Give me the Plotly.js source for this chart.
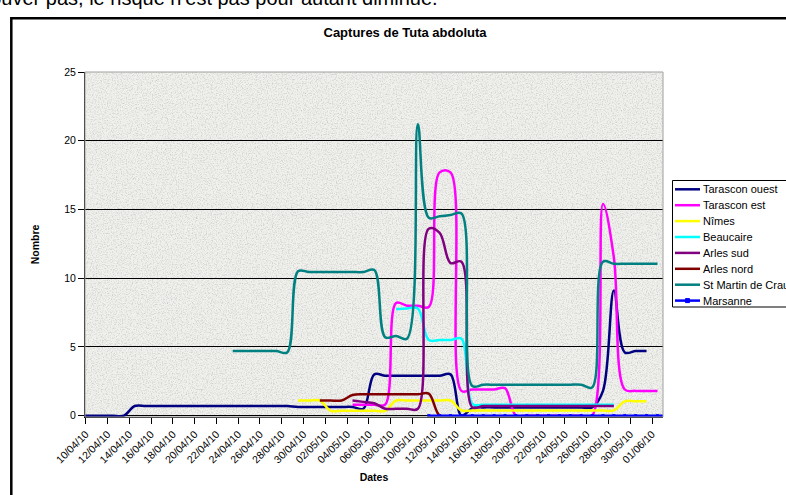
<!DOCTYPE html>
<html>
<head>
<meta charset="utf-8">
<script src="https://cdn.plot.ly/plotly-3.0.1.min.js"></script>
<style>
html,body{margin:0;padding:0;background:#fff;overflow:hidden;width:786px;height:495px;}
#chart{position:absolute;left:0;top:0;width:786px;height:495px;}
#toptext{position:absolute;left:-22px;top:-12px;font:20px/20px "Liberation Sans",Arial,sans-serif;color:#000;white-space:nowrap;z-index:5;}
</style>
</head>
<body>
<div id="chart"></div>
<div id="toptext">trouver pas, le risque n'est pas pour autant diminué.</div>
<script>
// ---------- DATA ----------
const days = [
  "2010-04-09","2010-04-10","2010-04-11","2010-04-12","2010-04-13","2010-04-14","2010-04-15","2010-04-16",
  "2010-04-17","2010-04-18","2010-04-19","2010-04-20","2010-04-21","2010-04-22","2010-04-23","2010-04-24",
  "2010-04-25","2010-04-26","2010-04-27","2010-04-28","2010-04-29","2010-04-30",
  "2010-05-01","2010-05-02","2010-05-03","2010-05-04","2010-05-05","2010-05-06","2010-05-07","2010-05-08",
  "2010-05-09","2010-05-10","2010-05-11","2010-05-12","2010-05-13","2010-05-14","2010-05-15","2010-05-16",
  "2010-05-17","2010-05-18","2010-05-19","2010-05-20","2010-05-21","2010-05-22","2010-05-23","2010-05-24",
  "2010-05-25","2010-05-26","2010-05-27","2010-05-28","2010-05-29","2010-05-30","2010-05-31",
  "2010-06-01","2010-06-02"
];

const seriesNames = ["Tarascon ouest","Tarascon est","Nîmes","Beaucaire","Arles sud","Arles nord","St Martin de Crau","Marsanne"];

const tarasconOuest = [0,0,0,0,0,
  0.7,0.7,0.7,0.7,0.7,0.7,0.7,0.7,0.7,0.7,0.7,0.7,0.7,0.7,0.7,
  0.63,0.63,0.63,0.63,0.63,0.63,
  0.5,3.0,2.9,2.9,2.9,2.9,2.9,2.9,3.0,0,0.55,
  0.6,0.6,0.6,0.6,0.6,0.6,0.6,0.6,0.6,0.6,0.6,
  1.8,9.1,4.6,4.7,4.7,null,null];

const tarasconEst = [null,null,null,null,null,null,null,null,null,null,null,null,null,null,null,null,null,null,null,null,null,null,null,null,null,
  0.8,0.8,0.8,0.8,8.2,8.0,8.0,7.9,17.7,17.7,1.8,1.9,1.9,1.9,2.0,
  0,0,0,0,0,0,0,0,15.4,11.5,1.9,1.8,1.8,1.8,null];

const nimes = [null,null,null,null,null,null,null,null,null,null,null,null,null,null,null,null,null,null,null,null,
  1.1,1.1,1.1,0.35,0.35,0.35,0.35,0.35,0.35,
  1.1,1.1,1.1,1.1,1.1,1.1,
  0.38,0.38,0.38,0.38,0.38,0.38,0.38,0.38,0.38,0.38,0.38,0.38,0.38,0.38,0.38,
  1.04,1.04,1.04,null,null];

const beaucaire = [null,null,null,null,null,null,null,null,null,null,null,null,null,null,null,null,null,null,null,null,null,null,null,null,null,null,null,null,null,
  7.75,7.8,7.8,5.5,5.5,5.5,5.6,0.85,
  0.8,0.8,0.8,0.8,0.8,0.8,0.8,0.8,0.8,0.8,0.8,0.8,0.8,
  null,null,null,null,null];

const arlesSud = [null,null,null,null,null,null,null,null,null,null,null,null,null,null,null,null,null,null,null,null,null,null,null,null,null,
  1.1,1.0,0.9,0.5,0.5,0.5,0.5,13.6,13.3,11.1,11.2,0.6,
  0.7,0.7,0.7,0.7,0.7,0.7,0.7,0.7,0.7,0.7,0.7,0.7,0.7,
  null,null,null,null,null];

const arlesNord = [null,null,null,null,null,null,null,null,null,null,null,null,null,null,null,null,null,null,null,null,null,null,
  1.1,1.1,1.1,1.5,1.55,1.55,1.55,1.55,1.55,1.55,1.6,0,0,
  null,null,null,null,null,null,null,null,null,null,null,null,null,null,null,null,null,null,null,null];

const stMartinDeCrau = [null,null,null,null,null,null,null,null,null,null,null,null,null,null,
  4.7,4.7,4.7,4.7,4.7,4.6,10.5,10.45,10.45,10.45,10.45,10.45,10.45,10.6,
  5.7,5.8,5.6,21.2,14.4,14.5,14.6,14.7,2.15,
  2.25,2.25,2.25,2.25,2.25,2.25,2.25,2.25,2.25,2.25,2.05,
  11.2,11.05,11.05,11.05,11.05,11.05,null];

const marsanne = [null,null,null,null,null,null,null,null,null,null,null,null,null,null,null,null,
  null,null,null,null,null,null,null,null,null,null,null,null,null,null,null,null,
  0,0,0,0,0,0,0,0,0,0,0,0,0,0,0,0,0,0,0,0,0,0,0];

const yTickValues = [0,5,10,15,20,25];

// ---------- STYLE ----------
const seriesValues = [tarasconOuest,tarasconEst,nimes,beaucaire,arlesSud,arlesNord,stMartinDeCrau,marsanne];
const seriesColors = ["#000080","#ff00ff","#ffff00","#00ffff","#800080","#800000","#008080","#0000ff"];
const FONT = "Liberation Sans, Arial, sans-serif";

// readings are taken at mid-day
const xDates = days.map(d => d + " 12:00");

const traces = seriesValues.map((vals, k) => ({
  type: "scatter",
  mode: k === 7 ? "lines+markers" : "lines",
  name: seriesNames[k],
  x: xDates,
  y: vals,
  line: {color: seriesColors[k], width: 2.5, shape: "spline", smoothing: 1},
  marker: {color: seriesColors[k], size: 3, symbol: "square"},
  connectgaps: false,
  hoverinfo: "x+y+name"
}));

// pixel geometry of the plot area
const L = 85, R = 663, T = 72, B = 417;
const px = x => (x - L) / (R - L);
const py = y => (B - y) / (B - T);

const shapes = [];
const annotations = [];

// outer chart frame
shapes.push({type:"rect", xref:"paper", yref:"paper", x0:px(11.3), x1:px(1100), y0:py(900), y1:py(18.3),
  line:{color:"#000", width:2.5}, fillcolor:"rgba(0,0,0,0)", layer:"below"});
// plot area border (grey)
shapes.push({type:"rect", xref:"paper", yref:"paper", x0:0, x1:1, y0:0, y1:1,
  line:{color:"#a0a0a0", width:1}, fillcolor:"rgba(0,0,0,0)", layer:"above"});

// legend (drawn manually for Excel-like spacing)
shapes.push({type:"rect", xref:"paper", yref:"paper", x0:px(672.5), x1:px(900), y0:py(307), y1:py(180.5),
  line:{color:"#000", width:1}, fillcolor:"#fff", layer:"above"});
seriesNames.forEach((nm, k) => {
  const ly = 189.3 + 15.9 * k;
  shapes.push({type:"line", xref:"paper", yref:"paper", x0:px(675), x1:px(700), y0:py(ly), y1:py(ly),
    line:{color:seriesColors[k], width:2.5}, layer:"above"});
  if (k === 7) {
    shapes.push({type:"rect", xref:"paper", yref:"paper", x0:px(685.5), x1:px(689.5), y0:py(ly+2), y1:py(ly-2),
      line:{color:seriesColors[k], width:1}, fillcolor:seriesColors[k], layer:"above"});
  }
  annotations.push({xref:"paper", yref:"paper", x:px(701), y:py(ly), xanchor:"left", yanchor:"middle",
    text:nm, showarrow:false, font:{family:FONT, size:11, color:"#000"}});
});

// granite-like texture for the plot area
const texSvg = "<svg xmlns='http://www.w3.org/2000/svg' width='578' height='345' viewBox='0 0 578 345'>" +
  "<filter id='f' x='0' y='0' width='1' height='1'>" +
  "<feTurbulence type='fractalNoise' baseFrequency='0.8' numOctaves='3' seed='5'/>" +
  "<feColorMatrix type='matrix' values='0 0 0 0 0.55  0 0 0 0 0.55  0 0 0 0 0.54  -1.9 0 0 0 1.05'/>" +
  "</filter>" +
  "<rect width='578' height='345' fill='#f0f0ed'/>" +
  "<rect width='578' height='345' filter='url(#f)'/></svg>";
const texture = "data:image/svg+xml;charset=utf-8," + encodeURIComponent(texSvg);

const layout = {
  width: 786, height: 495,
  margin: {l: L, r: 786 - R, t: T, b: 495 - B, autoexpand: false},
  paper_bgcolor: "rgba(0,0,0,0)",
  plot_bgcolor: "rgba(0,0,0,0)",
  showlegend: false,
  font: {family: FONT, color: "#000"},
  title: {text: "Captures de Tuta abdoluta", font: {family: FONT, size: 13, weight: "bold", color: "#000"},
    xref: "container", x: 405 / 786, xanchor: "center", yref: "container", y: 1 - 32.5 / 495, yanchor: "middle"},
  xaxis: {
    type: "date",
    range: ["2010-04-09 22:27", "2010-06-02 00:15"],
    tick0: "2010-04-10", dtick: 172800000,
    tickformat: "%d/%m/%y", tickangle: -45,
    tickfont: {family: FONT, size: 10.5, color: "#000"},
    ticks: "outside", ticklen: 6, tickcolor: "#000", tickwidth: 1,
    showline: true, linecolor: "#000", linewidth: 1,
    showgrid: false, zeroline: false,
    title: {text: "Dates", font: {family: FONT, size: 10.5, weight: "bold", color: "#000"}, standoff: 9}
  },
  yaxis: {
    range: [-0.1, 25],
    tickvals: yTickValues,
    tickfont: {family: FONT, size: 10.5, color: "#000"},
    ticks: "outside", ticklen: 6, tickcolor: "#000", tickwidth: 1,
    showline: true, linecolor: "#000", linewidth: 1,
    showgrid: true, gridcolor: "#000", gridwidth: 1, zeroline: false,
    title: {text: "Nombre", font: {family: FONT, size: 10.5, weight: "bold", color: "#000"}, standoff: 22}
  },
  images: [{source: texture, xref: "paper", yref: "paper", x: 0, y: 1, sizex: 1, sizey: 1,
    sizing: "stretch", xanchor: "left", yanchor: "top", layer: "below"}],
  shapes: shapes,
  annotations: annotations
};

Plotly.newPlot("chart", traces, layout, {staticPlot: true, displayModeBar: false});
</script>
</body>
</html>
